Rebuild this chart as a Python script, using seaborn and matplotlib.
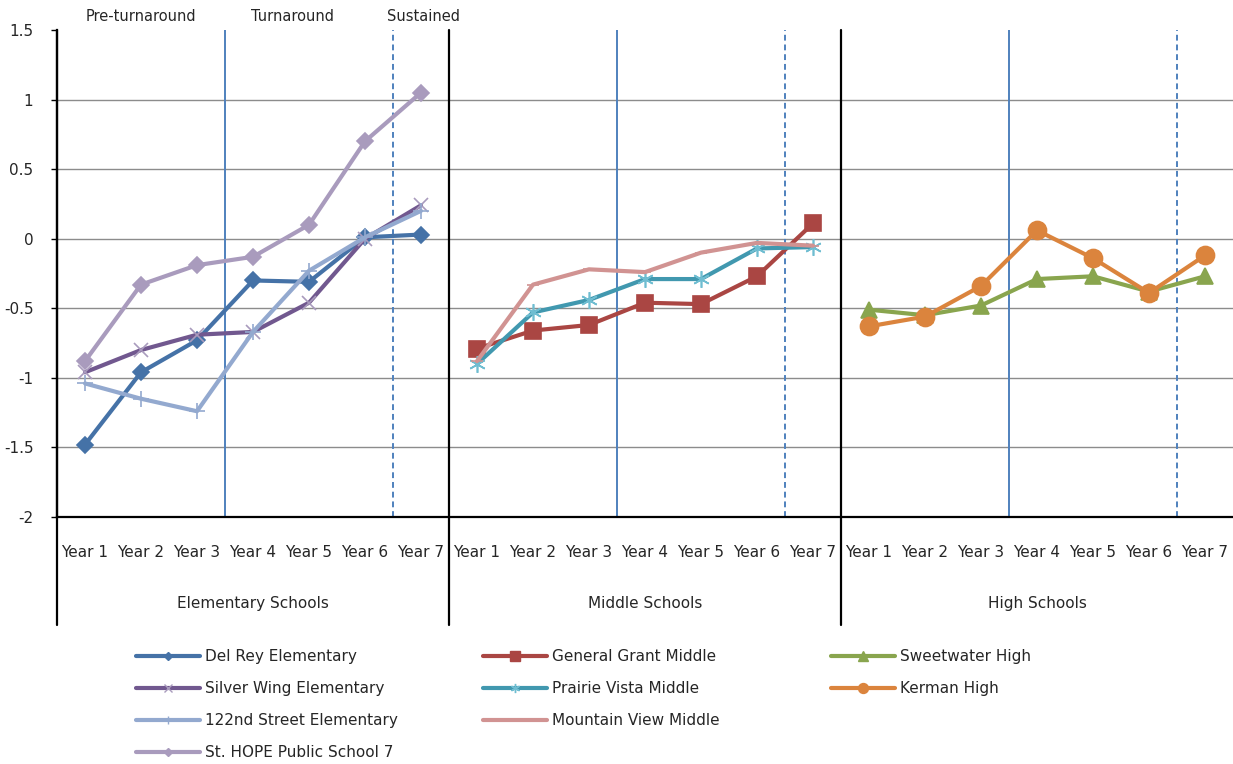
import matplotlib
matplotlib.use("Agg")
import matplotlib.pyplot as plt
import matplotlib.transforms as mtransforms
from matplotlib.lines import Line2D
import numpy as np
import pandas as pd
import seaborn as sns

sns.set_style("white")
plt.rcParams['font.family'] = ['DejaVu Sans']

years = ["Year 1", "Year 2", "Year 3", "Year 4", "Year 5", "Year 6", "Year 7"]
groups = ["Elementary Schools", "Middle Schools", "High Schools"]
phases = ["Pre-turnaround", "Turnaround", "Sustained"]

# elementary
del_rey = [-1.48, -0.96, -0.73, -0.30, -0.31, 0.01, 0.03]
silver_wing = [-0.96, -0.80, -0.69, -0.67, -0.46, 0.00, 0.24]
street_122 = [-1.04, -1.15, -1.24, -0.67, -0.23, 0.01, 0.20]
st_hope = [-0.88, -0.33, -0.19, -0.13, 0.10, 0.70, 1.05]
# middle
general_grant = [-0.79, -0.66, -0.62, -0.46, -0.47, -0.27, 0.11]
prairie_vista = [-0.90, -0.53, -0.44, -0.29, -0.29, -0.07, -0.06]
mountain_view = [-0.88, -0.33, -0.22, -0.24, -0.10, -0.03, -0.05]
# high
sweetwater = [-0.51, -0.55, -0.48, -0.29, -0.27, -0.38, -0.27]
kerman = [-0.63, -0.56, -0.34, 0.06, -0.14, -0.39, -0.12]

schools = [
    # name, group index, values, line color, marker, marker size, marker color
    ("Del Rey Elementary", 0, del_rey, "#4572A7", "D", 8, "#4572A7"),
    ("Silver Wing Elementary", 0, silver_wing, "#71588F", "x", 10, "#A99BBD"),
    ("122nd Street Elementary", 0, street_122, "#93A9CF", "+", 11, "#93A9CF"),
    ("St. HOPE Public School 7", 0, st_hope, "#A99BBD", "D", 8, "#A99BBD"),
    ("General Grant Middle", 1, general_grant, "#AA4643", "s", 12, "#AA4643"),
    ("Prairie Vista Middle", 1, prairie_vista, "#4198AF", (6, 2, 0), 12, "#6FBDD1"),
    ("Mountain View Middle", 1, mountain_view, "#D19392", "_", 8, "#D19392"),
    ("Sweetwater High", 2, sweetwater, "#89A54E", "^", 12, "#89A54E"),
    ("Kerman High", 2, kerman, "#DB843D", "o", 13, "#DB843D"),
]

W, H = 1233, 764
fig = plt.figure(figsize=(W / 100, H / 100), dpi=100)
ax = fig.add_axes([57 / W, 1 - 517 / H, (W - 57) / W, (517 - 30) / H])

n = len(years)
for name, g, vals, color, marker, ms, mcolor in schools:
    df = pd.DataFrame({"pos": np.arange(n) + g * n, "value": vals})
    sns.lineplot(data=df, x="pos", y="value", ax=ax, color=color, lw=3,
                 marker=marker, markersize=ms, markerfacecolor=mcolor,
                 markeredgecolor=mcolor, markeredgewidth=1.2, zorder=5)

ax.set_xlim(-0.5, 3 * n - 0.5)
ax.set_ylim(-2, 1.5)
yticks = [1.5, 1, 0.5, 0, -0.5, -1, -1.5, -2]
ax.set_yticks(yticks)
ax.set_yticklabels([f"{v:g}" for v in yticks])
for v in yticks[1:-1]:
    ax.axhline(v, color="#8C8C8C", lw=1, zorder=1)

ax.set_xticks(np.arange(3 * n))
ax.set_xticklabels(years * 3)
ax.tick_params(axis="x", length=0, pad=20, labelsize=11)
ax.tick_params(axis="y", direction="out", length=4, width=1, color="black",
               pad=13, labelsize=11, left=True)
ax.set_xlabel("")
ax.set_ylabel("")

for s in ["top", "right"]:
    ax.spines[s].set_visible(False)
for s in ["left", "bottom"]:
    ax.spines[s].set_color("black")
    ax.spines[s].set_linewidth(1.6)

# phase lines in each panel
for g in range(3):
    ax.axvline(g * n + 2.5, color="#4F81BD", lw=1.4, zorder=2)
    ax.axvline(g * n + 5.5, color="#4F81BD", lw=1.4, ls=(0, (3, 2)), zorder=2)

# group dividers running down through the labels
trans = mtransforms.blended_transform_factory(ax.transData, ax.transAxes)
for xpos in [-0.5, n - 0.5, 2 * n - 0.5]:
    ax.plot([xpos, xpos], [1, -0.222], transform=trans, color="black",
            lw=1.6, clip_on=False, zorder=6)
for g, label in enumerate(groups):
    ax.text(g * n + 3, -0.177, label, transform=trans, ha="center",
            va="center", fontsize=11)

# phase labels above the first panel
phase_x = [1, 3.7, 6.05]
for px, label in zip(phase_x, phases):
    ax.text(px, 1.028, label, transform=trans, ha="center", va="center",
            fontsize=10.5)

# legend in three columns
col_x = [130, 477, 825]
for g in range(3):
    handles = []
    for name, gg, vals, color, marker, ms, mcolor in schools:
        if gg != g:
            continue
        handles.append(Line2D([], [], color=color, lw=3, marker=marker,
                              markersize=ms * 0.55, markerfacecolor=mcolor,
                              markeredgecolor=mcolor, label=name))
    fig.legend(handles=handles, loc="upper left",
               bbox_to_anchor=(col_x[g] / W, 1 - 643 / H), frameon=False,
               fontsize=11, handlelength=4.2, handletextpad=0.3,
               labelspacing=1.12, borderaxespad=0)

fig.savefig("out.png", dpi=100)
